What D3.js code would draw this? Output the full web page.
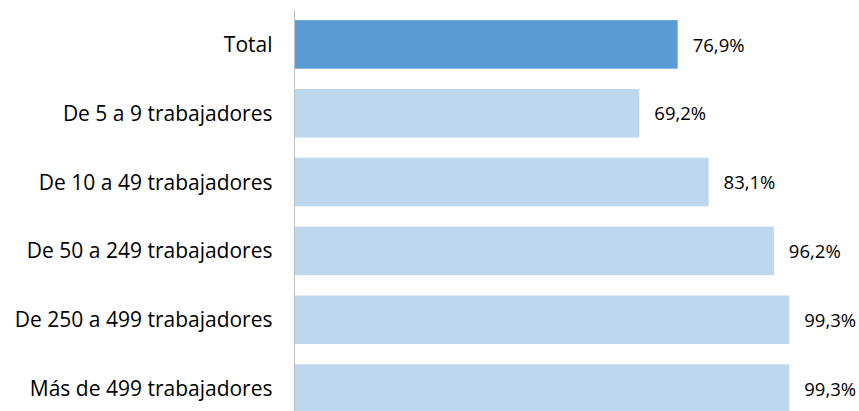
<!DOCTYPE html>
<html><head><meta charset="utf-8">
<script src="https://cdn.jsdelivr.net/npm/d3@7"></script>
<style>body{margin:0;background:#fff}svg{display:block}</style>
</head><body>
<script>
const categories = ["Total","De 5 a 9 trabajadores","De 10 a 49 trabajadores","De 50 a 249 trabajadores","De 250 a 499 trabajadores","Más de 499 trabajadores"];
const values = [76.9, 69.2, 83.1, 96.2, 99.3, 99.3];
const valueLabels = ["76,9%","69,2%","83,1%","96,2%","99,3%","99,3%"];

const W = 859, H = 411;
const svg = d3.select("body").append("svg").attr("width", W).attr("height", H);
const x0 = 294.5;
const x = d3.scaleLinear().domain([0, 100]).range([x0, 792.8]);
const y = d3.scaleBand().domain(categories).range([10, 423]).paddingInner(0.295).paddingOuter(0.1475);

svg.selectAll("rect.bar").data(categories).join("rect")
  .attr("x", x(0)).attr("y", d => y(d))
  .attr("width", (d,i) => x(values[i]) - x(0))
  .attr("height", y.bandwidth())
  .attr("fill", (d,i) => i === 0 ? "#5B9BD5" : "#BDD7EE");

svg.append("line").attr("x1", x0).attr("x2", x0).attr("y1", 10).attr("y2", 411)
  .attr("stroke", "#BFBFBF").attr("stroke-width", 1);

svg.selectAll("text.cat").data(categories).join("text")
  .attr("x", x0 - 22).attr("y", d => y(d) + y.bandwidth()/2)
  .attr("dy", "0.36em").attr("text-anchor", "end")
  .attr("font-family", "'Open Sans', sans-serif").attr("font-size", 21)
  .attr("fill", "#000").text(d => d);

svg.selectAll("text.val").data(categories).join("text")
  .attr("x", (d,i) => x(values[i]) + 15).attr("y", d => y(d) + y.bandwidth()/2)
  .attr("dy", "0.39em")
  .attr("font-family", "'Open Sans', sans-serif").attr("font-size", 18.5)
  .attr("fill", "#000").text((d,i) => valueLabels[i]);
</script>
</body></html>
